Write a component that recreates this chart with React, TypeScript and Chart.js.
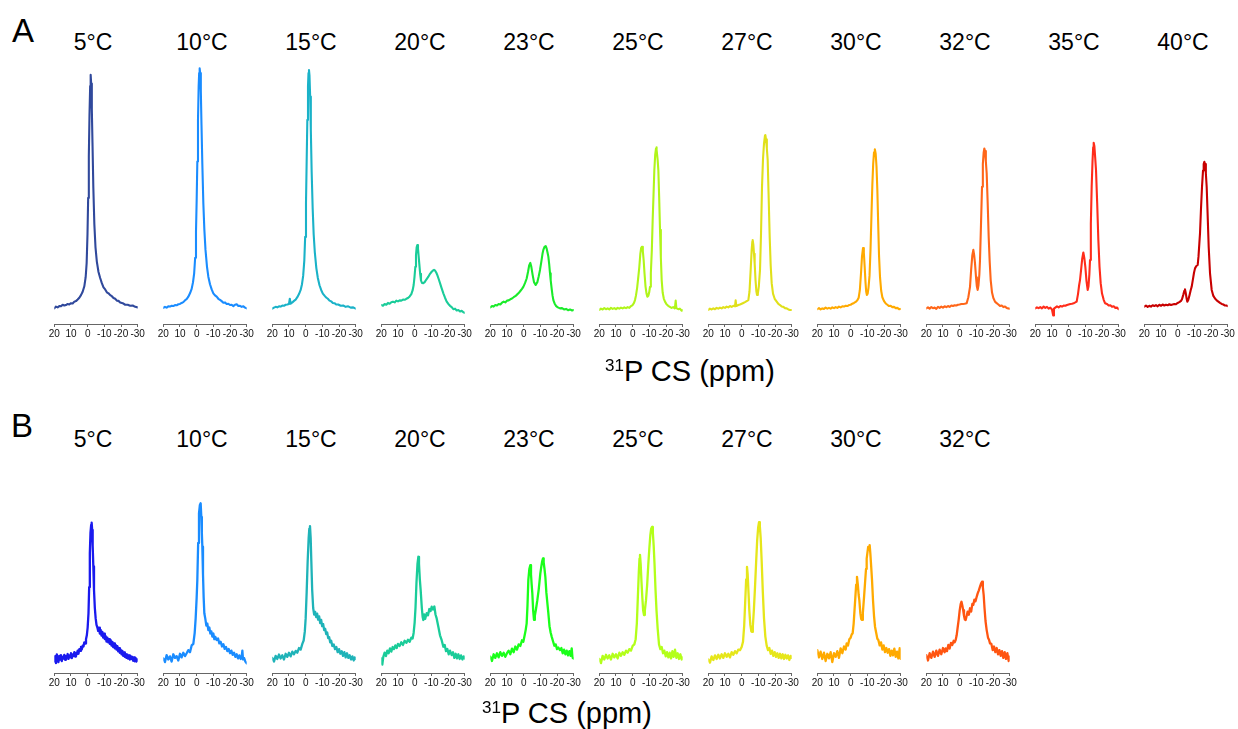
import React, { useEffect, useRef } from 'react';
import { Chart, registerables } from 'chart.js';

Chart.register(...registerables);

// ---------- data ----------
const tempsA = ['5°C', '10°C', '15°C', '20°C', '23°C', '25°C', '27°C', '30°C', '32°C', '35°C', '40°C'];
const tempsB = ['5°C', '10°C', '15°C', '20°C', '23°C', '25°C', '27°C', '30°C', '32°C'];
const colorsA = ['#30499c', '#1a8cff', '#1ab2c8', '#1acc99', '#1aeb2a', '#b0f51a', '#e0e01a', '#ffaa00', '#ff6619', '#ff2c1a', '#c80000'];
const colorsB = ['#1a1aee', '#1a8cff', '#1fb3b8', '#1acc99', '#1aff1a', '#b3ff1a', '#e6e61a', '#ffaa00', '#ff5511'];
const ppmTicks = [20, 10, 0, -10, -20, -30];
const xLabelMain = 'P CS (ppm)';
const xLabelSup = '31';

// [ppm, intensity]
const specA05 = [[20,-0.5],[19,0.2],[18,-0.1],[17,0.4],[16,0.3],[15,0.9],[14,0.6],[13,0.8],[12,1.2],[11,1.0],[10,1.5],[9,1.4],[8,2.1],[7,2.3],[6,2.9],[5,3.6],[4,4.6],[3,5.9],[2,8],[1.2,11.5],[0.6,17],[0.1,28],[-0.3,42],[-0.7,58],[-1.1,74],[-1.5,85],[-1.8,89.3],[-2.1,86],[-2.5,76],[-2.9,63],[-3.4,46],[-4,32],[-4.7,23],[-5.5,17.5],[-6.5,13.5],[-7.5,11.2],[-8.5,9.2],[-9.5,7.6],[-10.5,6.8],[-11.5,5.7],[-12.5,5.3],[-13.5,4.6],[-14.5,4.2],[-15.5,3.5],[-16.5,3.2],[-17.5,2.5],[-18.5,2.4],[-19.5,1.8],[-21,1.5],[-22.5,0.9],[-24,0.9],[-25.5,0.5],[-27,0.6],[-28.5,0.1],[-30,-0.1]];
const specA10 = [[20,-0.3],[19,0.1],[18,-0.2],[17,0.3],[16,0.2],[15,0.5],[14,0.4],[13,0.8],[12,0.7],[11,1.1],[10,1.2],[9,1.6],[8,1.9],[7,2.6],[6,3.1],[5,4.0],[4,5.3],[3,7.0],[2.2,9.5],[1.5,13],[0.9,19],[0.4,29],[0,41],[-0.4,56],[-0.8,72],[-1.2,85],[-1.5,90],[-1.8,91.8],[-2.1,90],[-2.5,83],[-2.9,70],[-3.4,55],[-4,40],[-4.6,30],[-5.3,22],[-6.2,15.5],[-7,11.7],[-8,8.8],[-9,6.8],[-10,5.3],[-11,4.5],[-12,4.0],[-13,3.2],[-14,2.8],[-15,2.3],[-16,1.7],[-17,1.8],[-18,1.2],[-19,1.3],[-20,0.8],[-21,0.9],[-22,0.4],[-23,0.9],[-24,1.1],[-25,0.4],[-26,0.5],[-27,0.1],[-28,0.3],[-29,-0.2],[-30,-0.5]];
const specA15 = [[20,-0.6],[19,-0.2],[18,0.1],[17,-0.1],[16,0.3],[15,0.2],[14,0.6],[13,0.5],[12,0.9],[11,1.0],[10,1.2],[9.5,3.2],[9,1.3],[8,1.8],[7,2.4],[6,2.9],[5,3.8],[4,5.0],[3,6.6],[2.2,8.8],[1.5,12],[0.8,18],[0.3,27],[-0.2,40],[-0.6,56],[-1,72],[-1.4,85],[-1.7,90],[-2,91.2],[-2.3,89],[-2.7,81],[-3.1,68],[-3.6,52],[-4.2,38],[-4.8,28],[-5.5,21],[-6.4,15],[-7.3,11.2],[-8.3,8.4],[-9.3,6.6],[-10.3,5.2],[-11.3,4.4],[-12.3,3.7],[-13.3,3.2],[-14.3,2.5],[-15.3,2.2],[-16.3,1.6],[-17.3,1.5],[-18.3,1.0],[-19.5,1.0],[-21,0.5],[-22.5,0.6],[-24,0.1],[-25.5,0.3],[-27,-0.2],[-28.5,-0.1],[-30,-0.6]];
const specA20 = [[20,0.8],[19,0.5],[18,1.2],[17,0.9],[16,1.6],[15,1.3],[14,1.9],[13,2.1],[12,1.8],[11,2.5],[10,2.2],[9,2.6],[8,2.5],[7,2.9],[6,2.8],[5,3.2],[4,3.5],[3,4.1],[2,5.0],[1.2,6.5],[0.6,8.5],[0.1,11.5],[-0.4,15.5],[-0.8,20],[-1.2,23],[-1.6,23.9],[-2,22.5],[-2.4,19.5],[-2.8,16.5],[-3.3,12.8],[-3.8,10.2],[-4.4,9.3],[-5.2,9.2],[-6,9.6],[-7,10.6],[-8.2,11.7],[-9.2,12.8],[-10.2,13.6],[-11,14.1],[-11.6,14.3],[-12.3,14.0],[-13,13.2],[-13.6,12.3],[-14.4,10.8],[-15.2,9.2],[-16.2,7.2],[-17.2,5.3],[-18.2,3.6],[-19.2,2.1],[-20.2,1.2],[-21.2,0.5],[-22.2,0],[-23.2,-0.8],[-24.2,-0.6],[-25.2,-1.3],[-26.2,-1.1],[-27.2,-1.7],[-28.2,-1.4],[-29.2,-2.0],[-30,-2.2]];
const specA23 = [[20,-0.1],[19,0.4],[18,0.2],[17,0.8],[16,0.6],[15,1.2],[14,1.0],[13,1.7],[12,2.1],[11,1.8],[10,2.5],[9,2.6],[8,3.0],[7,3.3],[6,3.8],[5,4.2],[4,4.8],[3,5.4],[2,6.2],[1,7.0],[0.2,7.8],[-0.8,9.2],[-1.8,11],[-2.6,13.5],[-3.3,16],[-4,17],[-4.6,15.5],[-5.4,12.3],[-6.2,9.6],[-7.2,8.5],[-8.2,9.6],[-9,11.8],[-9.8,14.3],[-10.6,17.5],[-11.3,20.5],[-11.8,22],[-12.5,23.2],[-13.2,23.5],[-13.8,22.5],[-14.3,21],[-14.8,19.4],[-15.3,16.5],[-15.8,13],[-16.2,10.4],[-16.8,7],[-17.3,4.5],[-17.8,2.7],[-18.6,1.3],[-19.5,0.4],[-20.5,-0.1],[-21.8,-0.5],[-23,-0.4],[-24.2,-0.9],[-25.4,-0.7],[-26.6,-1.2],[-27.8,-0.9],[-29,-1.3],[-30,-1.1]];
const specA25 = [[20,-1.1],[19,-0.6],[18,-0.9],[17,-0.4],[16,-0.8],[15,-0.5],[14,-0.9],[13,-0.3],[12,-0.7],[11,-0.4],[10,-0.8],[9,-0.3],[8,-0.6],[7,-0.2],[6,-0.5],[5,-0.1],[4,-0.4],[3,0],[2,-0.3],[1,0.4],[0,0.8],[-0.8,1.6],[-1.4,2.7],[-2,4.5],[-2.7,7.5],[-3.4,11.7],[-4,15.5],[-4.6,20.5],[-5.1,22.8],[-5.6,23.2],[-6.1,21.5],[-6.6,18],[-7.1,13],[-7.7,8],[-8.3,5.2],[-8.8,4],[-9.4,4.4],[-9.9,5.6],[-10.4,7.8],[-10.9,13],[-11.5,22],[-12,33.5],[-12.5,43],[-13,52.7],[-13.5,58.5],[-14,61],[-14.2,61.5],[-14.5,60.5],[-15,56.5],[-15.4,52.7],[-15.9,42],[-16.4,29.7],[-16.9,19],[-17.4,10.4],[-18,5.5],[-18.7,3.2],[-19.4,2.1],[-20.3,1.1],[-21.3,0.5],[-22.3,0.1],[-23.3,-0.3],[-24.3,0],[-25.3,-0.5],[-25.8,2.5],[-26.2,-0.4],[-27.3,-0.8],[-28.3,-0.6],[-29.4,-1.4],[-30,-1.2]];
const specA27 = [[20,-1.1],[19,-0.6],[18,-0.9],[17,-0.5],[16,-0.8],[15,-0.3],[14,-0.6],[13,-0.2],[12,-0.5],[11,0],[10,-0.3],[9,0.2],[8,-0.1],[7,0.4],[6,0.1],[5,0.5],[4,0.3],[3.6,2.6],[3.2,0.4],[2,0.8],[1,1.0],[0,1.3],[-1,1.6],[-2,1.9],[-3,2.3],[-4,2.7],[-4.7,6],[-5.4,14.3],[-6,22],[-6.4,25.2],[-6.6,25.8],[-7,24],[-7.4,20.5],[-7.8,16.8],[-8.3,10.5],[-8.8,6.2],[-9.2,4.7],[-9.7,5.2],[-10.3,8],[-11,14.3],[-11.6,28],[-12.2,46.3],[-12.8,57],[-13.4,63],[-14,66],[-14.2,66.2],[-14.6,64.5],[-15.1,61],[-15.6,56.6],[-16.2,42],[-16.8,27],[-17.4,16],[-18,9.2],[-18.8,5.2],[-19.8,3.2],[-21,2.1],[-22,1.2],[-23,0.8],[-24,0.2],[-25,0.1],[-26,-0.4],[-27,-0.5],[-28,-0.9],[-29,-1.1],[-30,-1.1]];
const specA30 = [[20,-0.8],[19,-0.4],[18,-0.9],[17,-0.5],[16,-0.7],[15,-0.2],[14,-0.6],[13,-0.3],[12,-0.6],[11,-0.1],[10,-0.4],[9,0],[8,-0.3],[7,0.2],[6,-0.1],[5,0.3],[4,0.2],[3,0.5],[2,0.4],[1,0.8],[0,0.9],[-1,1.3],[-2,1.6],[-3,2.0],[-4,2.6],[-4.8,3.6],[-5.5,6.5],[-6.2,13],[-6.8,19.5],[-7.4,22.7],[-7.9,21],[-8.4,15.5],[-8.9,9.5],[-9.3,6],[-9.7,4.7],[-10.2,5.2],[-10.7,7.5],[-11.3,12],[-11.9,22],[-12.5,36],[-13,47],[-13.5,55],[-14,59.5],[-14.5,60.7],[-15,59],[-15.5,54],[-16,45],[-16.5,32],[-17,20],[-17.6,11.5],[-18.3,6.3],[-19,3.8],[-20,2.3],[-21,1.4],[-22,0.9],[-23,0.4],[-24,0.5],[-25,0],[-26,0.1],[-27,-0.4],[-28,-0.3],[-29,-0.8],[-30,-0.7]];
const specA32 = [[20,-0.5],[19,-0.1],[18,-0.6],[17,0],[16,-0.4],[15,-0.2],[14,-0.7],[13,0.1],[12,-0.3],[11,0.2],[10,-0.2],[9,0.3],[8,0],[7,0.4],[6,0.1],[5,0.6],[4,0.4],[3,0.7],[2,0.6],[1,0.9],[0,1.0],[-1,1.2],[-2,1.2],[-3,1.3],[-4.2,1.5],[-5.2,3.8],[-6.2,7.8],[-6.9,14.5],[-7.6,20],[-8.2,22],[-8.7,20],[-9.2,16.8],[-9.8,11.5],[-10.3,8],[-10.8,6.6],[-11.3,8.5],[-11.8,12.5],[-12.2,18.1],[-12.8,32],[-13.4,46.3],[-13.9,55],[-14.4,59.5],[-14.8,61],[-15.2,60],[-15.7,56],[-16.2,51.5],[-16.8,40],[-17.4,27],[-18,17.5],[-18.6,10.4],[-19.4,5.6],[-20.2,3.5],[-21.2,2.1],[-22.2,1.5],[-23.2,1.0],[-24.2,0.4],[-25.2,0.6],[-26.2,0],[-27.2,0.2],[-28.2,-0.3],[-29.2,-0.5],[-30,-0.6]];
const specA35 = [[20,-0.5],[19,-0.1],[18,-0.4],[17,0],[16,-0.5],[15,0.2],[14,-0.3],[13,0.1],[12,-0.6],[11,-0.2],[10,-0.9],[9.3,-3.2],[8.8,-0.6],[8,-0.2],[7,0.3],[6,-0.1],[5,0.4],[4,0.2],[3,0.6],[2,0.5],[1,0.8],[0,1.0],[-1,1.2],[-2,1.3],[-3,1.5],[-4,1.8],[-4.8,2.1],[-5.6,5],[-6.3,8.5],[-6.8,10.4],[-7.4,14],[-8.1,18.5],[-8.8,21],[-9.4,18.8],[-10,15.5],[-10.7,10],[-11.4,6.6],[-11.9,8],[-12.4,12.5],[-12.8,18.1],[-13.3,32],[-13.8,46.3],[-14.3,56],[-14.7,61.5],[-15,63.2],[-15.4,62],[-15.9,57.5],[-16.4,52.7],[-17.1,40],[-17.8,25.8],[-18.5,15.5],[-19.2,9.2],[-20,5.2],[-21,2.8],[-21.8,1.5],[-23,1.2],[-24,0.6],[-25,0.7],[-26,0.1],[-27,0.3],[-28,-0.3],[-29,-0.2],[-30,-0.8]];
const specA40 = [[20,0.2],[19,0.6],[18,0.1],[17,0.5],[16,0.2],[15,0.7],[14,0.4],[13,0.8],[12,0.3],[11,0.9],[10,0.5],[9,1.0],[8,0.6],[7,0.9],[6,0.7],[5,1.1],[4,0.8],[3,1.0],[2,1.2],[1,1.1],[0,1.6],[-1,1.9],[-2,2.4],[-2.6,3],[-3.4,4.8],[-4,6.3],[-4.4,6.8],[-4.9,5.2],[-5.4,3.2],[-5.8,2.1],[-6.4,2.8],[-7.1,4.6],[-7.8,6.5],[-8.4,7.8],[-9.1,10.5],[-9.8,13.2],[-10.4,14.9],[-11.2,15.8],[-12,16.2],[-12.5,19.5],[-13,24.5],[-13.4,28.4],[-14,38],[-14.6,46.3],[-15.2,52.5],[-15.6,55],[-16,55.9],[-16.4,55],[-16.9,51.5],[-17.4,46.3],[-18,35],[-18.6,23.2],[-19.4,13],[-20.4,6.6],[-21.4,4.3],[-22.4,3.3],[-23.4,2.6],[-24.4,2.1],[-25.4,1.6],[-26.4,1.2],[-27.4,1.0],[-28.4,0.6],[-29.2,0.6],[-30,0.4]];

const specB05 = [[20,-0.5],[19.5,1.5],[19,-1.2],[18.5,2.2],[18,0.3],[17.5,-0.8],[17,1.6],[16.5,0.2],[16,1.9],[15.5,-0.4],[15,1.2],[14.5,0.6],[14,2.0],[13.5,0.1],[13,1.5],[12.5,0.9],[12,2.3],[11.5,0.4],[11,1.8],[10.5,1.0],[10,2.6],[9.5,0.7],[9,2.1],[8.5,1.5],[8,3.0],[7.5,1.3],[7,2.7],[6.5,2.2],[6,3.6],[5.5,2.4],[5,4.2],[4.5,3.5],[4,5.0],[3.5,4.1],[3,5.5],[2.5,5.2],[2,6.8],[1.5,6.3],[1,8.0],[0.5,9.5],[0,12.5],[-0.5,18],[-0.9,28],[-1.3,41],[-1.7,49],[-2.1,52],[-2.4,52.8],[-2.7,50],[-3,44],[-3.4,36],[-3.8,27],[-4.3,20],[-4.8,16],[-5.3,13.5],[-5.8,12.6],[-6.3,11.2],[-6.8,12.4],[-7.3,10.2],[-7.8,11.6],[-8.3,9.4],[-8.8,10.8],[-9.3,8.6],[-9.8,10.1],[-10.3,8.0],[-10.8,9.2],[-11.3,7.1],[-11.8,8.6],[-12.3,6.8],[-12.8,8.0],[-13.3,6.2],[-13.8,7.6],[-14.3,5.5],[-14.8,7.0],[-15.3,5.0],[-15.8,6.4],[-16.3,4.5],[-16.8,5.8],[-17.3,4.0],[-17.8,5.3],[-18.3,3.3],[-18.8,4.6],[-19.3,2.8],[-19.8,4.0],[-20.3,2.2],[-20.8,3.5],[-21.3,1.6],[-21.8,2.9],[-22.3,1.2],[-22.8,2.4],[-23.3,0.8],[-23.8,2.1],[-24.3,0.5],[-24.8,1.8],[-25.3,0.2],[-25.8,1.5],[-26.3,0.4],[-26.8,1.2],[-27.3,-0.3],[-27.8,1.0],[-28.3,-0.5],[-28.8,0.7],[-29.3,-0.6],[-30,0.2]];
const specB10 = [[20,0.6],[19,-0.8],[18,1.9],[17,0.2],[16,1.4],[15,-0.6],[14,2.2],[13,0.8],[12,1.5],[11,-0.2],[10,2.4],[9,1.0],[8,2.8],[7,1.5],[6,2.6],[5,3.8],[4,3.0],[3,5.6],[2,6.2],[1.2,10.3],[0.6,16],[0,24],[-0.4,30.8],[-0.9,45],[-1.4,56.4],[-1.9,59.5],[-2.4,60.3],[-2.8,55],[-3.1,49],[-3.4,43.6],[-3.8,33],[-4.2,24],[-4.6,18],[-5.2,15.8],[-5.8,13.2],[-6.4,14.0],[-7,11.5],[-7.6,12.5],[-8.2,10.2],[-8.8,11.0],[-9.4,9.0],[-10,10.2],[-10.6,8.0],[-11.2,8.9],[-12,7.7],[-12.8,8.3],[-13.6,6.4],[-14.4,7.0],[-15.2,5.2],[-16,6.1],[-16.8,4.3],[-17.6,5.0],[-18.4,3.4],[-19.2,4.2],[-20,2.6],[-20.8,3.6],[-21.6,2.0],[-22.4,2.8],[-23.2,1.2],[-24,2.2],[-24.8,0.6],[-25.6,1.8],[-26.4,0.4],[-27,1.2],[-27.4,3.6],[-27.8,0.2],[-28.4,0.8],[-29.2,-0.6],[-30,-1.3]];
const specB15 = [[20,0.8],[19,-0.6],[18,1.6],[17,0.4],[16,2.1],[15,0.6],[14,1.8],[13,0.2],[12,2.4],[11,1.2],[10,2.8],[9,1.4],[8,3.2],[7,2.2],[6,3.5],[5,2.8],[4,4.6],[3,4.0],[2,6.2],[1.2,7.5],[0.5,11],[0,16],[-0.6,26],[-1.2,38],[-1.8,47],[-2.2,50.5],[-2.6,51.5],[-3,47],[-3.4,38],[-3.9,27],[-4.5,20],[-5.1,17.5],[-5.7,18.5],[-6.3,16.5],[-6.9,17.8],[-7.5,15.5],[-8.1,16.8],[-8.7,14.2],[-9.3,15.4],[-9.9,13.0],[-10.5,13.8],[-11.1,11.5],[-11.7,12.0],[-12.3,10.0],[-12.9,10.6],[-13.5,8.4],[-14.1,8.8],[-14.7,6.8],[-15.3,7.4],[-16,5.4],[-16.8,6.0],[-17.6,4.2],[-18.4,5.0],[-19.2,3.0],[-20,4.2],[-20.8,2.4],[-21.6,3.4],[-22.4,1.6],[-23.2,3.0],[-24,1.0],[-24.8,2.6],[-25.6,0.8],[-26.4,1.8],[-27.2,0.2],[-28,1.4],[-28.8,-0.2],[-29.4,1.0],[-30,0.4]];
const specB20 = [[20,0.6],[19.4,-1.8],[18.8,1.2],[18,2.8],[17.2,1.5],[16.4,3.6],[15.6,2.6],[14.8,4.5],[14,3.2],[13.2,5.0],[12.4,4.2],[11.6,5.6],[10.8,4.6],[10,6.2],[9,5.4],[8,6.8],[7,5.8],[6,7.4],[5,6.6],[4,7.8],[3,7.0],[2,8.6],[1.2,8.3],[0.6,10.5],[0,14.5],[-0.5,20],[-1.1,30],[-1.7,37],[-2.2,39.7],[-2.6,37],[-3.1,31],[-3.6,26.9],[-4.3,20],[-4.8,16.5],[-5.2,15.4],[-5.7,17.5],[-6.3,15.8],[-7.2,18.0],[-8,17.2],[-8.8,19.6],[-9.5,18.8],[-10.2,20.5],[-11,19.4],[-11.8,20.6],[-12.5,17.5],[-13.2,16.0],[-14.2,12.8],[-15.2,9.5],[-16.2,7.6],[-17.2,5.1],[-18,5.8],[-18.8,3.4],[-19.6,4.2],[-20.4,2.2],[-21.2,3.6],[-22.2,1.9],[-23,3.0],[-23.8,0.8],[-24.6,2.4],[-25.4,0.6],[-26.2,2.2],[-27,0.4],[-27.8,1.8],[-28.6,0.2],[-29.4,1.4],[-30,0.6]];
const specB23 = [[20,1.3],[19,-0.4],[18,2.2],[17,0.8],[16,2.6],[15,1.0],[14,3.0],[13,1.6],[12,2.8],[11,1.2],[10,2.6],[9,3.6],[8,2.2],[7,4.4],[6,3.0],[5,5.2],[4,4.0],[3,6.0],[2,5.4],[1,7.6],[0.2,7.0],[-0.6,9.5],[-1.2,11.5],[-1.8,14.1],[-2.3,21],[-2.8,30.8],[-3.4,35],[-4,36.5],[-4.4,33],[-4.8,29],[-5.2,25.6],[-5.7,19],[-6.2,15.4],[-6.7,17],[-7.4,19.6],[-8.2,23],[-9,27],[-10,33.3],[-10.6,36],[-11.1,38],[-11.6,39.1],[-12,37.5],[-12.5,35],[-13,32],[-13.6,26],[-14.2,22],[-14.8,18],[-15.5,13],[-16.2,10.5],[-16.8,9],[-17.6,7.2],[-18.4,5.5],[-19.2,6.0],[-20,4.2],[-20.8,4.8],[-21.8,3.8],[-22.6,4.6],[-23.4,2.6],[-24.2,4.0],[-25,2.2],[-25.8,3.6],[-26.6,1.8],[-27.4,3.4],[-28.2,1.6],[-28.8,4.5],[-29.4,0.8],[-30,0.6]];
const specB25 = [[20,0.4],[19,-1.2],[18,1.6],[17,0.2],[16,2.0],[15,0.6],[14,1.8],[13,0.2],[12,2.4],[11,1.0],[10,2.2],[9,0.6],[8,2.8],[7,1.6],[6,3.0],[5,2.0],[4,3.6],[3,2.8],[2,4.2],[1,3.6],[0,5.4],[-1,6.0],[-1.8,8],[-2.5,14],[-3.1,24],[-3.7,34],[-4.1,39],[-4.4,40.4],[-4.8,37],[-5.3,30],[-5.8,24],[-6.3,19],[-6.8,17.3],[-7.3,19],[-8,23],[-8.7,29],[-9.4,37],[-10,43],[-10.6,48],[-11.1,50.5],[-11.6,51.2],[-12.1,49],[-12.6,44],[-13.1,37],[-13.7,27],[-14.3,19],[-15,12],[-15.8,6],[-16.6,4.2],[-17.4,5.0],[-18.2,2.6],[-19,3.6],[-19.8,1.4],[-20.6,3.0],[-21.4,1.0],[-22.2,2.8],[-23,0.6],[-23.8,3.4],[-24.6,1.2],[-25.4,4.0],[-26.2,0.8],[-27,2.6],[-27.8,0.4],[-28.6,2.2],[-29.4,0.2],[-30,1.0]];
const specB27 = [[20,0.2],[19,-1.0],[18,1.4],[17,0.0],[16,1.8],[15,0.4],[14,2.0],[13,0.6],[12,2.2],[11,0.8],[10,2.6],[9,1.2],[8,2.4],[7,1.0],[6,3.0],[5,2.0],[4,3.4],[3,2.6],[2,4.0],[1,3.8],[0,5.0],[-0.8,7],[-1.5,13],[-2.1,22],[-2.7,31],[-3.2,35.8],[-3.6,33],[-4.1,26],[-4.6,19],[-5.2,13.5],[-5.8,11],[-6.2,10.8],[-6.7,13],[-7.3,19],[-8,28],[-8.7,38],[-9.3,46],[-9.9,51],[-10.4,53],[-10.9,51.5],[-11.4,47],[-12,38],[-12.7,26],[-13.4,16],[-14.2,9],[-15,5.5],[-15.8,3.8],[-16.6,4.6],[-17.4,2.4],[-18.2,3.6],[-19,1.6],[-19.8,3.0],[-20.6,1.2],[-21.4,2.6],[-22.2,0.8],[-23,2.4],[-23.8,0.6],[-24.6,2.2],[-25.4,0.4],[-26.2,2.0],[-27,0.6],[-27.8,1.8],[-28.6,0.0],[-29.4,1.6],[-30,0.8]];
const specB30 = [[20,3.8],[19,1.0],[18,3.2],[17,0.4],[16,2.8],[15,-0.4],[14,2.4],[13,0.6],[12,3.0],[11,-0.8],[10,2.6],[9,1.2],[8,3.4],[7,0.8],[6,4.5],[5,2.6],[4,5.2],[3,4.0],[2.4,6.4],[1.6,5.6],[0.8,8.0],[0,8.6],[-0.6,9.8],[-1.2,10.3],[-1.8,14],[-2.3,19],[-2.8,24],[-3.3,29],[-3.8,32],[-4.3,29],[-4.8,25],[-5.2,23],[-5.8,18],[-6.3,15.8],[-6.8,15.4],[-7.3,18],[-8,24],[-8.6,29.5],[-9.2,35],[-9.6,39],[-10,41],[-10.5,43.5],[-11,42.5],[-11.4,44.2],[-11.8,41],[-12.3,36],[-12.8,30.8],[-13.4,23],[-14,17],[-14.6,12.8],[-15.3,10.5],[-16,8.2],[-16.6,7.7],[-17.4,5.6],[-18.2,6.8],[-19,4.0],[-19.8,5.6],[-20.6,3.0],[-21.4,4.6],[-22.2,2.8],[-23,4.2],[-23.8,1.6],[-24.6,3.6],[-25.4,1.8],[-26.2,4.4],[-27,1.2],[-27.8,3.2],[-28.6,0.6],[-29.4,4.6],[-30,0.4]];
const specB32 = [[20,1.9],[19,-0.2],[18,2.6],[17,0.8],[16,3.2],[15,1.2],[14,3.6],[13,1.6],[12,4.0],[11,2.2],[10,4.6],[9,3.0],[8.4,4.5],[7.6,3.4],[6.8,5.8],[6,4.4],[5.2,6.6],[4.4,5.8],[3.6,7.4],[3,6.8],[2.4,7.7],[1.8,9.5],[1.2,12.5],[0.6,15.4],[0,19],[-0.6,21.5],[-1.1,22.4],[-1.6,21],[-2.1,19.2],[-2.6,17],[-3.1,15.6],[-3.6,15.4],[-4.2,17],[-4.8,18.6],[-5.5,17.4],[-6.2,19.9],[-6.9,18.6],[-7.6,21.6],[-8.2,21.2],[-8.8,23.2],[-9.5,22.6],[-10.2,24.3],[-10.8,25.6],[-11.5,26.8],[-12.2,28.2],[-12.8,29.4],[-13.4,30.1],[-13.9,28],[-14.4,25],[-14.9,20],[-15.5,15],[-16.2,11.5],[-17,8.6],[-17.6,7.8],[-18.2,6.4],[-19,6.2],[-19.8,3.8],[-20.6,5.2],[-21.4,3.0],[-22.2,4.6],[-23,2.2],[-23.8,3.8],[-24.6,1.6],[-25.4,3.4],[-26.2,0.8],[-27,3.0],[-27.8,0.4],[-28.6,2.6],[-29.4,-0.4],[-30,1.3]];

const spectraA = [specA05, specA10, specA15, specA20, specA23, specA25, specA27, specA30, specA32, specA35, specA40];
const spectraB = [specB05, specB10, specB15, specB20, specB23, specB25, specB27, specB30, specB32];

// ---------- layout ----------
const FONT = '"Liberation Sans", Arial, Helvetica, sans-serif';
const X0 = 54.3;
const STEP = 109;
const PLOT_W = 83.4;
const PLOT_H = 260;
const TOP_PAD = 2;
const AXIS_H = 22;
const CANVAS_W = 114;
const SIDE = 15;

type PanelProps = {
  points: number[][];
  color: string;
  index: number;
  axisY: number;
  yMin: number;
  yMax: number;
  lineWidth: number;
};

function Panel({ points, color, index, axisY, yMin, yMax, lineWidth }: PanelProps) {
  const ref = useRef<HTMLCanvasElement | null>(null);
  const x0 = X0 + index * STEP;
  const left = Math.floor(x0) - SIDE;
  const padL = x0 - left;
  const padR = CANVAS_W - padL - PLOT_W;
  const canvasH = TOP_PAD + PLOT_H + AXIS_H;
  const top = axisY - PLOT_H - TOP_PAD;

  useEffect(() => {
    if (!ref.current) return;
    const chart = new Chart(ref.current, {
      type: 'line',
      data: {
        datasets: [
          {
            data: points.map(([x, y]) => ({ x, y })),
            borderColor: color,
            borderWidth: lineWidth,
            pointRadius: 0,
            tension: 0,
            fill: false,
            borderJoinStyle: 'round',
            borderCapStyle: 'round',
          },
        ],
      },
      options: {
        animation: false,
        responsive: false,
        maintainAspectRatio: false,
        events: [],
        layout: { padding: { left: padL, right: padR, top: TOP_PAD, bottom: 0 } },
        plugins: {
          legend: { display: false },
          tooltip: { enabled: false },
          title: { display: false },
        },
        scales: {
          x: {
            type: 'linear',
            reverse: true,
            min: -30,
            max: 20,
            afterBuildTicks: (scale: any) => {
              scale.ticks = ppmTicks.map((v) => ({ value: v }));
            },
            afterFit: (scale: any) => {
              scale.height = AXIS_H;
            },
            ticks: {
              autoSkip: false,
              maxRotation: 0,
              minRotation: 0,
              padding: 1,
              color: '#111',
              font: { family: FONT, size: 10 },
              callback: (v: any) => String(v),
            },
            grid: {
              display: true,
              drawOnChartArea: false,
              drawTicks: true,
              tickLength: 3,
              color: '#666',
              lineWidth: 1,
            },
            border: { display: true, color: '#666', width: 1 },
          },
          y: { display: false, min: yMin, max: yMax },
        },
      },
    } as any);
    return () => chart.destroy();
  }, [points, color, padL, padR, yMin, yMax, lineWidth]);

  return (
    <canvas
      ref={ref}
      width={CANVAS_W}
      height={canvasH}
      style={{ position: 'absolute', left, top, width: CANVAS_W, height: canvasH }}
    />
  );
}

function Label({ text, cx, cy, size }: { text: string; cx: number; cy: number; size: number }) {
  return (
    <div
      style={{
        position: 'absolute',
        left: cx - 60,
        width: 120,
        top: cy - 0.49 * size,
        fontSize: size,
        lineHeight: `${size}px`,
        fontFamily: FONT,
        textAlign: 'center',
        color: '#000',
        whiteSpace: 'nowrap',
      }}
    >
      {text}
    </div>
  );
}

function AxisTitle({ cx, cy }: { cx: number; cy: number }) {
  const size = 29;
  return (
    <div
      style={{
        position: 'absolute',
        left: cx - 150,
        width: 300,
        top: cy - 0.49 * size,
        fontSize: size,
        lineHeight: `${size}px`,
        fontFamily: FONT,
        textAlign: 'center',
        color: '#000',
        whiteSpace: 'nowrap',
      }}
    >
      <span style={{ fontSize: 17, position: 'relative', top: -10 }}>{xLabelSup}</span>
      {xLabelMain}
    </div>
  );
}

export default function App() {
  const axisA = 324;
  const axisB = 673;
  return (
    <div
      style={{
        position: 'absolute',
        left: 0,
        top: 0,
        width: 1238,
        height: 729,
        overflow: 'hidden',
        background: '#fff',
      }}
    >
      <div style={{ position: 'absolute', left: 12, top: 30 - 0.49 * 33, fontSize: 33, lineHeight: '33px', fontFamily: FONT }}>A</div>
      <div style={{ position: 'absolute', left: 11, top: 425 - 0.49 * 33, fontSize: 33, lineHeight: '33px', fontFamily: FONT }}>B</div>
      {tempsA.map((t, i) => (
        <Label key={'ta' + i} text={t} cx={93 + STEP * i} cy={42} size={23} />
      ))}
      {tempsB.map((t, i) => (
        <Label key={'tb' + i} text={t} cx={93 + STEP * i} cy={439} size={23} />
      ))}
      {spectraA.map((s, i) => (
        <Panel key={'pa' + i} points={s} color={colorsA[i]} index={i} axisY={axisA} yMin={-6.5} yMax={93.5} lineWidth={2.1} />
      ))}
      {spectraB.map((s, i) => (
        <Panel key={'pb' + i} points={s} color={colorsB[i]} index={i} axisY={axisB} yMin={-5} yMax={95} lineWidth={2.3} />
      ))}
      <AxisTitle cx={690} cy={371} />
      <AxisTitle cx={567} cy={713} />
    </div>
  );
}
